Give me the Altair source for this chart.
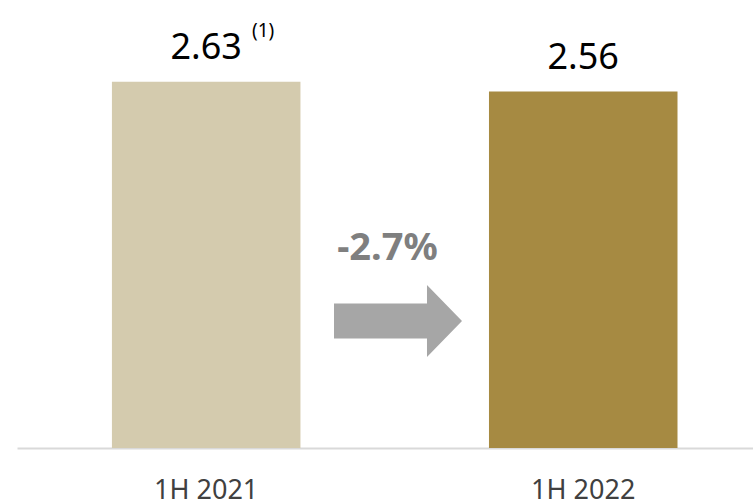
import altair as alt
import pandas as pd

periods = ["1H 2021", "1H 2022"]
values = [2.63, 2.56]
value_labels = ["2.63", "2.56"]
notes = ["(1)", ""]
colors = ["#D4CBAE", "#A68A42"]
change_label = "-2.7%"

FONT = "Noto Sans"
df = pd.DataFrame({"period": periods, "value": values, "label": value_labels,
                   "note": notes, "color": colors})
ann = pd.DataFrame({"label": [change_label], "ty": [1.35], "ay": [0.912]})

yscale = alt.Scale(domain=[0, 3.218], nice=False, zero=True)

x = alt.X("period:N", sort=periods,
          scale=alt.Scale(paddingInner=0.5, paddingOuter=0.226, align=0.557),
          axis=alt.Axis(title=None, ticks=False, labelAngle=0, labelFontSize=27,
                        labelFont=FONT, labelColor="#404040", labelPadding=29,
                        domainColor="#D9D9D9", domainWidth=2, grid=False))
y = alt.Y("value:Q", scale=yscale, axis=None)

base = alt.Chart(df)
bars = base.mark_bar().encode(x=x, y=y, color=alt.Color("color:N", scale=None))
labels = base.mark_text(baseline="alphabetic", dy=-23, fontSize=36, font=FONT,
                        color="#000000").encode(x=x, y=y, text="label:N")
fn = base.mark_text(baseline="alphabetic", dy=-45, dx=57, fontSize=19, font=FONT,
                    color="#000000").encode(x=x, y=y, text="note:N")

arrow_path = "M-1,-0.273 L0.453,-0.273 L0.453,-0.5625 L1,0 L0.453,0.5625 L0.453,0.273 L-1,0.273 Z"
arrow = alt.Chart(ann).mark_point(shape=arrow_path, filled=True, size=16384,
                                  color="#A6A6A6", opacity=1, strokeWidth=0).encode(
    x=alt.value(381), y=alt.Y("ay:Q", scale=yscale, axis=None))
change = alt.Chart(ann).mark_text(baseline="alphabetic", fontSize=38, fontWeight="bold",
                                  font=FONT, color="#7F7F7F").encode(
    x=alt.value(370.5), y=alt.Y("ty:Q", scale=yscale, axis=None),
    text="label:N")

chart = alt.layer(bars, labels, fn, arrow, change).properties(
    width=736, height=448,
    background="white",
    padding={"left": 17, "top": 0, "right": 0, "bottom": 55},
    autosize=alt.AutoSizeParams(type="none"),
).configure_view(strokeWidth=0)

chart.save("out.html", embed_options={"renderer": "svg", "actions": False})
